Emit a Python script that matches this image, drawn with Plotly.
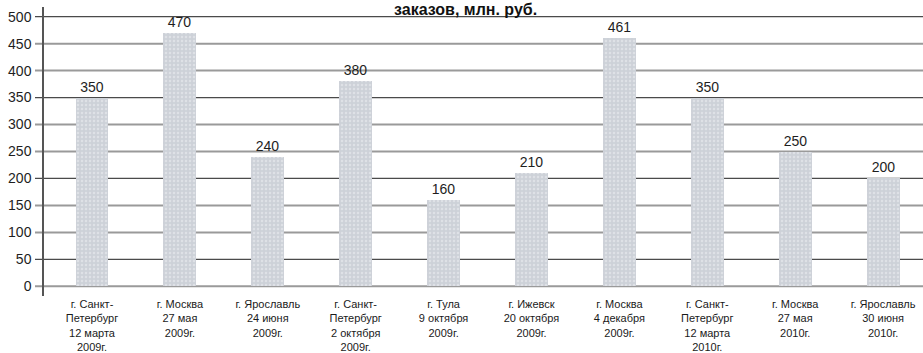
import plotly.graph_objects as go

# Exhibition events: city, date and order volume (млн. руб.)
categories = [
    "г. Санкт-<br>Петербург<br>12 марта<br>2009г.",
    "г. Москва<br>27 мая<br>2009г.",
    "г. Ярославль<br>24 июня<br>2009г.",
    "г. Санкт-<br>Петербург<br>2 октября<br>2009г.",
    "г. Тула<br>9 октября<br>2009г.",
    "г. Ижевск<br>20 октября<br>2009г.",
    "г. Москва<br>4 декабря<br>2009г.",
    "г. Санкт-<br>Петербург<br>12 марта<br>2010г.",
    "г. Москва<br>27 мая<br>2010г.",
    "г. Ярославль<br>30 июня<br>2010г.",
]
orders = [350, 470, 240, 380, 160, 210, 461, 350, 250, 200]
y_ticks = [0, 50, 100, 150, 200, 250, 300, 350, 400, 450, 500]
title_text = "заказов, млн. руб."

FONT = "Liberation Sans, Arial, Helvetica, sans-serif"
W, H = 923, 353
ML, MR, MT, MB = 44, 0, 7, 55
plot_w = W - ML - MR

x_pos = list(range(len(categories)))

fig = go.Figure(
    go.Bar(
        x=x_pos,
        y=orders,
        width=0.375,
        marker=dict(
            color="#cfd3da",
            line=dict(width=0),
            pattern=dict(shape=".", fgcolor="#eef0f3", bgcolor="#cdd1d8",
                         size=4, solidity=0.3),
        ),
        text=orders,
        texttemplate="%{text}",
        textposition="outside",
        textfont=dict(family=FONT, size=14, color="#1e1e1e"),
        cliponaxis=False,
        hoverinfo="skip",
    )
)

# Horizontal guide lines, with a short stub left of the axis
stub = -9 / plot_w
shapes = []
for v in y_ticks:
    dark = (v % 150) == 50
    shapes.append(dict(
        type="line", xref="paper", yref="y",
        x0=stub, x1=1, y0=v, y1=v,
        line=dict(color="#4a4a4a" if dark else "#9a9a9a",
                  width=1.2 if dark else 2),
        layer="below",
    ))

fig.update_layout(
    width=W, height=H,
    margin=dict(l=ML, r=MR, t=MT, b=MB),
    paper_bgcolor="white",
    plot_bgcolor="white",
    showlegend=False,
    bargap=0,
    shapes=shapes,
    font=dict(family=FONT, color="#1e1e1e"),
    xaxis=dict(
        range=[-0.546, 9.454],
        tickvals=x_pos,
        ticktext=categories,
        tickfont=dict(family=FONT, size=11, color="#1a1a1a"),
        showgrid=False,
        zeroline=False,
        showline=False,
        ticks="",
        fixedrange=True,
    ),
    yaxis=dict(
        range=[-18, 518],
        tickvals=y_ticks,
        ticks="outside",
        ticklen=8,
        tickcolor="rgba(0,0,0,0)",
        tickfont=dict(family=FONT, size=14, color="#1e1e1e"),
        showgrid=False,
        zeroline=False,
        showline=True,
        linecolor="#555555",
        linewidth=1.5,
        fixedrange=True,
    ),
    annotations=[dict(
        text="<b>" + title_text + "</b>",
        xref="paper", yref="paper",
        x=(465 - ML) / plot_w, y=1,
        xanchor="center", yanchor="top",
        yshift=7,
        borderpad=0,
        showarrow=False,
        font=dict(family=FONT, size=16, color="#111111"),
    )],
)

fig.write_html("out.html")
